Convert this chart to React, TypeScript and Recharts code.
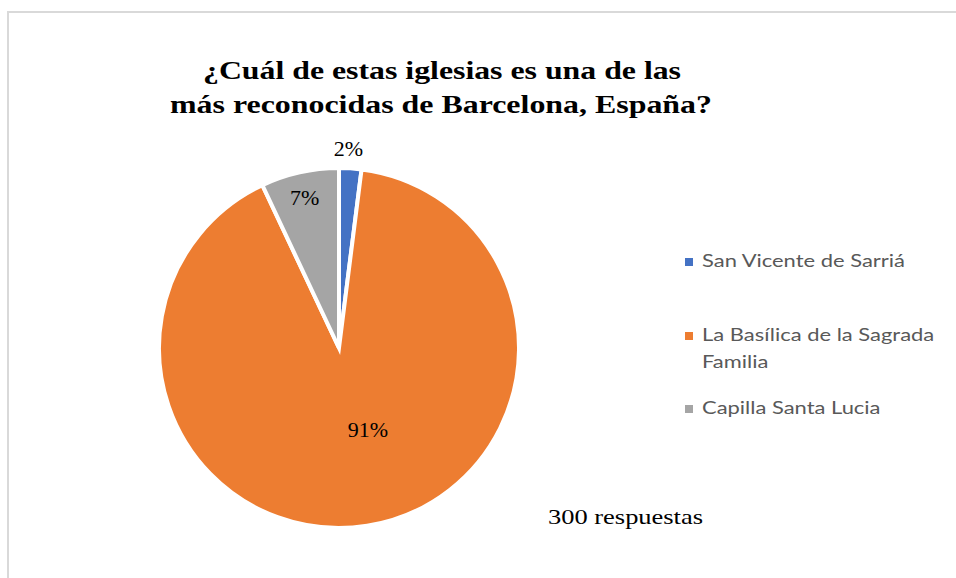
import React from 'react';
import { PieChart, Pie, Cell } from 'recharts';

const categories = [
  'San Vicente de Sarriá',
  'La Basílica de la Sagrada Familia',
  'Capilla Santa Lucia',
];
const percentages = [2, 91, 7];
const colors = ['#4472C4', '#ED7D31', '#A5A5A5'];
const titleLines = [
  '¿Cuál de estas iglesias es una de las',
  'más reconocidas de Barcelona, España?',
];
const footnote = '300 respuestas';

const data = categories.map((name, i) => ({ name, value: percentages[i] }));

// label placement per slice (distance from centre, angle nudge) like Excel best fit
const labelSpots = [
  { r: 200, shift: 0.9 },
  { r: 86, shift: 10.6 },
  { r: 154, shift: 0.3 },
];

const RADIAN = Math.PI / 180;
const serif = "'Liberation Serif', 'Times New Roman', serif";

const renderLabel = (props: any) => {
  const { cx, cy, midAngle, index, value } = props;
  const spot = labelSpots[index];
  const a = (midAngle + spot.shift) * RADIAN;
  const x = cx + spot.r * Math.cos(a);
  const y = cy - spot.r * Math.sin(a);
  return (
    <text x={x} y={y + 7.5} textAnchor="middle" fill="#000" fontFamily={serif} fontSize={22}>
      {value}%
    </text>
  );
};

// word wrap for legend entries
const wrap = (s: string, max: number) => {
  const out: string[] = [];
  let cur = '';
  s.split(' ').forEach((w) => {
    const next = cur ? cur + ' ' + w : w;
    if (next.length > max && cur) {
      out.push(cur);
      cur = w;
    } else cur = next;
  });
  out.push(cur);
  return out;
};

function ChartLegend() {
  const baselines = [267, 341, 414];
  return (
    <svg width={956} height={578} style={{ position: 'absolute', left: 0, top: 0 }}>
      {categories.map((name, i) => (
        <g key={name}>
          <rect x={685} y={baselines[i] - 9} width={8} height={8} fill={colors[i]} />
          {wrap(name, 26).map((line, j) => (
            // the reference's Calibri runs wide; stretch Lato horizontally
            <g key={line} transform={`translate(702, ${baselines[i] + j * 27}) scale(1.29, 1)`}>
              <text x={0} y={0} fontFamily="Lato, sans-serif" fontSize={17} fill="#595959">
                {line}
              </text>
            </g>
          ))}
        </g>
      ))}
    </svg>
  );
}

export default function App() {
  return (
    <div
      style={{
        position: 'absolute',
        left: 0,
        top: 0,
        width: 956,
        height: 578,
        background: '#fff',
        overflow: 'hidden',
      }}
    >
      <div
        style={{
          position: 'absolute',
          left: 7,
          top: 11,
          width: 1000,
          height: 700,
          borderLeft: '2px solid #d9d9d9',
          borderTop: '2px solid #d9d9d9',
        }}
      />
      <div style={{ position: 'absolute', left: 0, top: 0 }}>
        <PieChart width={956} height={578} margin={{ top: 0, right: 0, bottom: 0, left: 0 }}>
          <Pie
            data={data}
            dataKey="value"
            nameKey="name"
            cx={339}
            cy={348}
            outerRadius={180}
            startAngle={90}
            endAngle={-270}
            stroke="#fff"
            strokeWidth={4}
            label={renderLabel}
            labelLine={false}
            isAnimationActive={false}
          >
            {data.map((d, i) => (
              <Cell key={d.name} fill={colors[i]} />
            ))}
          </Pie>
        </PieChart>
      </div>
      <svg width={956} height={578} style={{ position: 'absolute', left: 0, top: 0 }}>
        <text
          x={203}
          y={79}
          textLength={478}
          lengthAdjust="spacingAndGlyphs"
          fontFamily={serif}
          fontWeight="bold"
          fontSize={25}
          fill="#000"
        >
          {titleLines[0]}
        </text>
        <text
          x={170}
          y={113}
          textLength={542}
          lengthAdjust="spacingAndGlyphs"
          fontFamily={serif}
          fontWeight="bold"
          fontSize={25}
          fill="#000"
        >
          {titleLines[1]}
        </text>
        <text
          x={548}
          y={524}
          textLength={155}
          lengthAdjust="spacingAndGlyphs"
          fontFamily={serif}
          fontSize={21}
          fill="#000"
        >
          {footnote}
        </text>
      </svg>
      <ChartLegend />
    </div>
  );
}
